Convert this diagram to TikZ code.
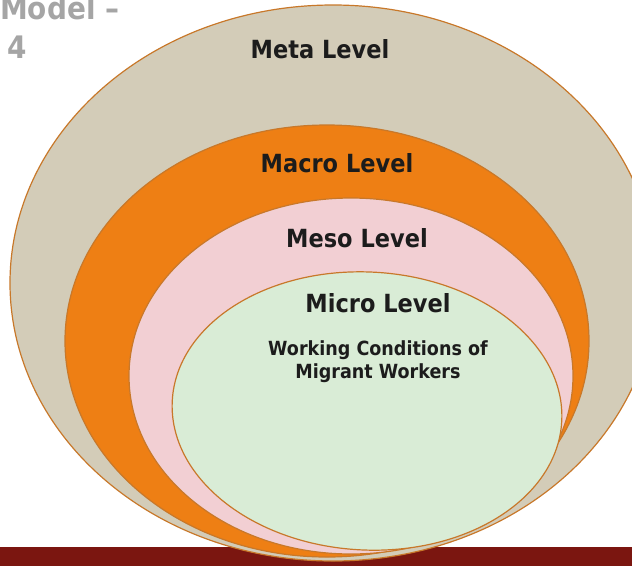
\documentclass[tikz,border=0pt]{standalone}
\usepackage{fontspec}
\setmainfont{DejaVu Sans}[FakeStretch=0.9]
\definecolor{metafill}{RGB}{211,204,184}
\definecolor{macrofill}{RGB}{238,127,20}
\definecolor{mesofill}{RGB}{242,207,211}
\definecolor{microfill}{RGB}{217,236,214}
\definecolor{ringline}{RGB}{200,120,42}
\definecolor{barred}{RGB}{123,22,16}
\definecolor{labelink}{RGB}{28,28,28}
\definecolor{titlegray}{RGB}{165,165,165}
\tikzset{
  ring/.style={draw=ringline, line width=1.2pt},
  levellabel/.style={text=labelink, font=\bfseries\fontsize{25}{28}\selectfont, anchor=base, inner sep=0pt},
  notelabel/.style={text=labelink, font=\bfseries\fontsize{19.5}{23}\selectfont, anchor=base, inner sep=0pt},
  titlelabel/.style={text=titlegray, font=\bfseries\fontsize{31}{34}\selectfont, anchor=base west, inner sep=0pt},
}
\begin{document}
\begin{tikzpicture}[x=1pt, y=-1pt]
  \useasboundingbox (0,0) rectangle (632,566);
  \clip (0,0) rectangle (632,566);

  % footer band
  \fill[barred] (0,547) rectangle (632,566);

  % nested levels, outermost first
  \filldraw[ring, fill=metafill]  (333,283) ellipse [x radius=323, y radius=278];
  \filldraw[ring, fill=macrofill] (327,341) ellipse [x radius=262, y radius=216];
  \filldraw[ring, fill=mesofill]  (351,376) ellipse [x radius=222, y radius=178];
  \filldraw[ring, fill=microfill] (367,411) ellipse [x radius=195, y radius=139, rotate=-3];

  % title in the corner
  \node[titlelabel] (title1) at (0,19) {Model –};
  \node[titlelabel] (title2) at (7,58) {4};

  % level names
  \node[levellabel] (meta)  at (320,58)  {Meta Level};
  \node[levellabel] (macro) at (337,172) {Macro Level};
  \node[levellabel] (meso)  at (357,247) {Meso Level};
  \node[levellabel] (micro) at (378,312) {Micro Level};

  % subject of the innermost level
  \node[notelabel] (note1) at (378,355) {Working Conditions of};
  \node[notelabel] (note2) at (378,378) {Migrant Workers};
\end{tikzpicture}
\end{document}
